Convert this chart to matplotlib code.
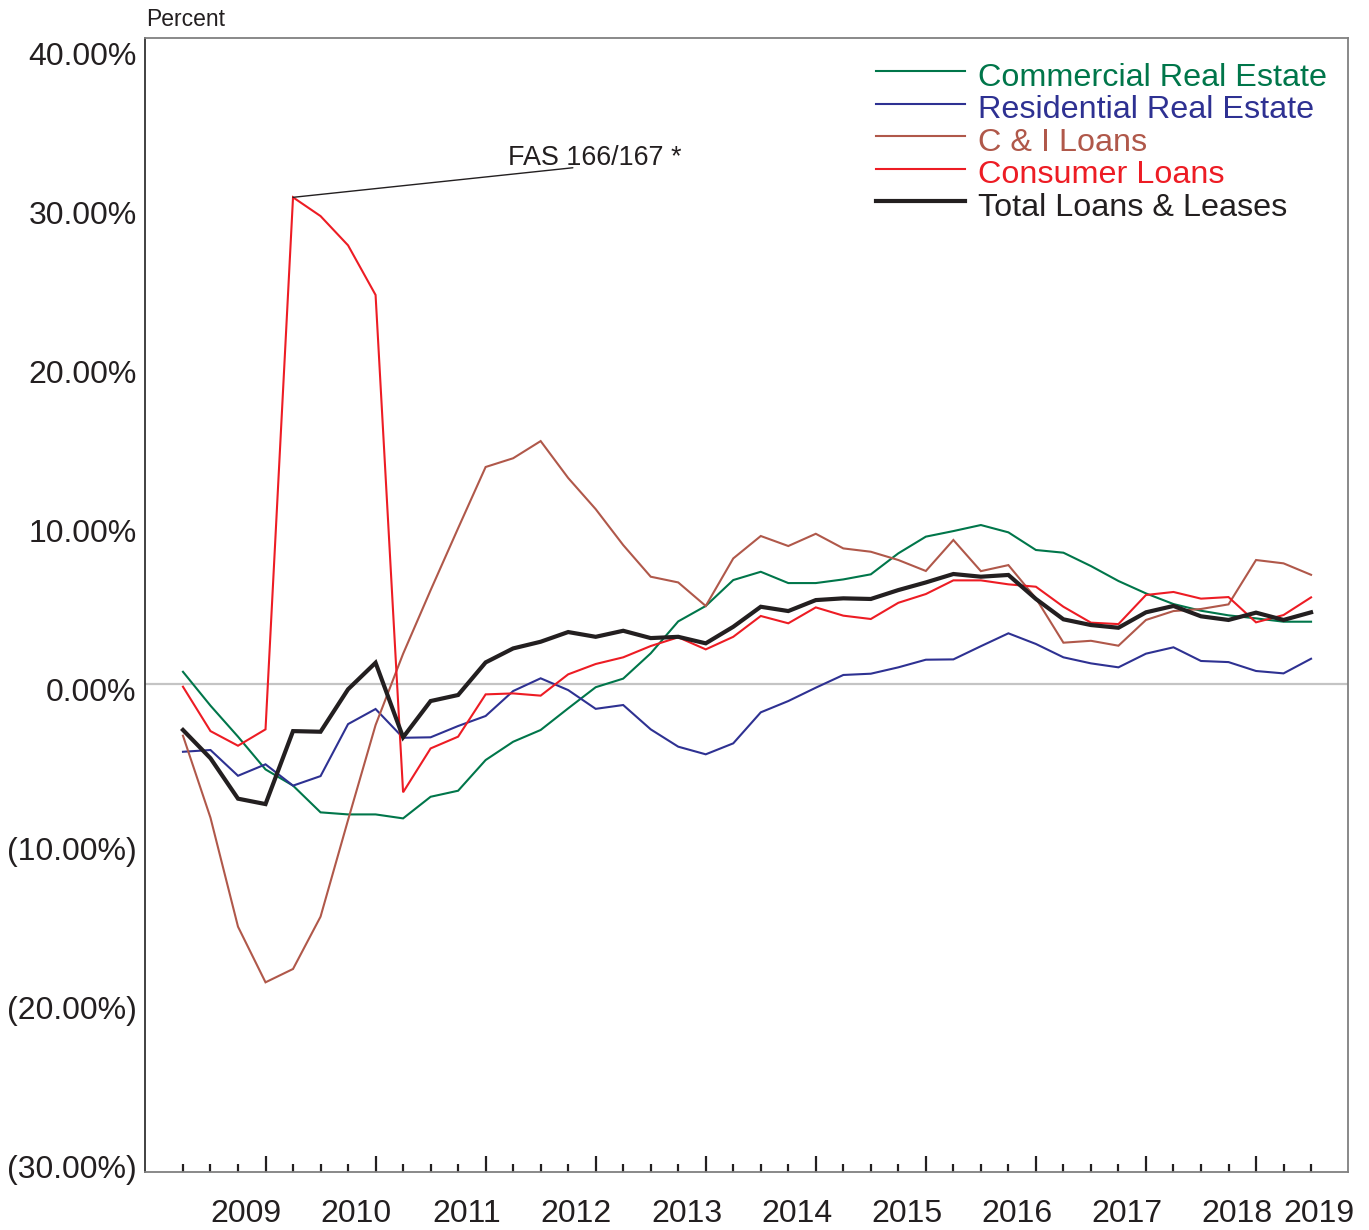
import numpy as np
import matplotlib
matplotlib.use("Agg")
import matplotlib.pyplot as plt
from matplotlib.lines import Line2D
from matplotlib.transforms import ScaledTranslation, blended_transform_factory

plt.rcParams["font.family"] = ["Liberation Sans", "DejaVu Sans"]

# quarterly growth rates, percent (42 quarters)
cre = [0.77, -1.36, -3.31, -5.37, -6.39, -8.07, -8.2, -8.2, -8.45, -7.09,
       -6.71, -4.78, -3.63, -2.89, -1.53, -0.2, 0.34, 1.93, 3.94, 4.91,
       6.54, 7.06, 6.35, 6.35, 6.58, 6.9, 8.22, 9.27, 9.62, 10.0,
       9.54, 8.43, 8.26, 7.42, 6.48, 5.7, 5.03, 4.61, 4.32, 4.13,
       3.92, 3.92]
rre = [-4.26, -4.15, -5.77, -5.05, -6.39, -5.79, -2.52, -1.57, -3.38, -3.35,
       -2.64, -2.01, -0.44, 0.36, -0.38, -1.56, -1.32, -2.85, -3.94, -4.42,
       -3.73, -1.78, -1.07, -0.23, 0.57, 0.65, 1.05, 1.53, 1.55, 2.38,
       3.19, 2.52, 1.68, 1.30, 1.05, 1.91, 2.31, 1.45, 1.38, 0.82,
       0.67, 1.59]
cni = [-3.25, -8.41, -15.26, -18.76, -17.92, -14.63, -8.55, -2.58, 1.9, 5.9,
       9.8, 13.65, 14.2, 15.28, 12.96, 11.0, 8.74, 6.75, 6.39, 4.91,
       7.9, 9.31, 8.68, 9.45, 8.53, 8.32, 7.8, 7.11, 9.06, 7.1,
       7.48, 5.39, 2.6, 2.72, 2.41, 4.03, 4.59, 4.72, 5.01, 7.8,
       7.59, 6.87]
consumer = [-0.17, -2.96, -3.88, -2.85, 30.61, 29.43, 27.59, 24.47, -6.81, -4.05,
            -3.31, -0.65, -0.59, -0.73, 0.61, 1.26, 1.68, 2.39, 2.94, 2.18,
            2.97, 4.28, 3.82, 4.82, 4.3, 4.09, 5.11, 5.66, 6.52, 6.52,
            6.27, 6.12, 4.86, 3.86, 3.77, 5.6, 5.79, 5.37, 5.47, 3.88,
            4.34, 5.45]
total = [-2.89, -4.67, -7.21, -7.55, -2.96, -3.0, -0.33, 1.34, -3.35, -1.07,
         -0.69, 1.36, 2.24, 2.66, 3.27, 2.97, 3.35, 2.89, 2.97, 2.56,
         3.6, 4.86, 4.59, 5.28, 5.39, 5.35, 5.91, 6.39, 6.92, 6.75,
         6.86, 5.35, 4.07, 3.71, 3.54, 4.51, 4.91, 4.26, 4.03, 4.49,
         4.03, 4.51]

names = ["Commercial Real Estate", "Residential Real Estate", "C & I Loans",
         "Consumer Loans", "Total Loans & Leases"]
colors = ["#00764a", "#2e3192", "#b0584a", "#ed1c24", "#231f20"]
widths = [1.5, 1.5, 1.5, 1.5, 3.0]

years = ["2009", "2010", "2011", "2012", "2013", "2014", "2015", "2016",
         "2017", "2018", "2019"]
yticks = [40, 30, 20, 10, 0, -10, -20, -30]

fas_quarter = 4
fas_label = "FAS 166/167 *"

fig = plt.figure(figsize=(13.69, 12.3), dpi=100)
ax = fig.add_axes([0.1059, 0.0474, 0.8788, 0.9217])

q = np.arange(len(total))
ax.axhline(0, color="#c4c4c4", lw=1.6, zorder=1)
for vals, c, w in zip([cre, rre, cni, consumer, total], colors, widths):
    ax.plot(q, vals, color=c, lw=w, solid_joinstyle="miter", zorder=3)

ax.set_xlim(-1.381, 42.345)
ax.set_ylim(-30.67, 40.63)

# y axis: percent labels, negatives in parentheses, no tick marks
ax.set_yticks(yticks)
ax.set_yticklabels([f"{v:.2f}%" if v >= 0 else f"({-v:.2f}%)" for v in yticks])
ax.tick_params(axis="y", length=0, pad=6, labelsize=23, labelcolor="#231f20")
shift = ScaledTranslation(0, -5 / 100, fig.dpi_scale_trans)
for lab in ax.get_yticklabels():
    lab.set_transform(lab.get_transform() + shift)

# x axis: quarterly ticks pointing in, taller at year end
ax.set_xticks(q[3::4])
ax.set_xticks([i for i in q if i % 4 != 3], minor=True)
ax.set_xticklabels([])
ax.tick_params(axis="x", which="major", direction="in", length=11.5, width=1.6,
               color="#231f20")
ax.tick_params(axis="x", which="minor", direction="in", length=5.8, width=1.6,
               color="#231f20")
xt = blended_transform_factory(ax.transData, ax.transAxes)
year_pos = [2.3 + 4 * k for k in range(len(years) - 1)] + [41.3]
for x, yr in zip(year_pos, years):
    ax.text(x, -0.0441, yr, transform=xt, ha="center", va="baseline",
            fontsize=23, color="#231f20", clip_on=False)

for side in ["top", "right", "bottom"]:
    ax.spines[side].set_color("#808080")
    ax.spines[side].set_linewidth(1.3)
ax.spines["left"].set_color("#333333")
ax.spines["left"].set_linewidth(1.3)

ax.text(0.001, 1.0106, "Percent", transform=ax.transAxes, ha="left",
        va="baseline", fontsize=16.5, color="#231f20")

# leader line to the consumer loan jump
ax.annotate("", xy=(fas_quarter, consumer[fas_quarter]), xytext=(14.17, 32.47),
            arrowprops=dict(arrowstyle="-", color="#231f20", lw=1.0,
                            shrinkA=0, shrinkB=0))
ax.text(11.81, 32.64, fas_label, ha="left", va="baseline", fontsize=19.4,
        color="#231f20")

# legend drawn by hand: short line plus coloured label
row_line = [0.9712, 0.9418, 0.9139, 0.8845, 0.8565]
row_text = [0.9577, 0.9291, 0.9005, 0.8718, 0.8432]
for name, c, w, yl, yt in zip(names, colors, widths, row_line, row_text):
    ax.add_line(Line2D([0.6077, 0.6816], [yl, yl], transform=ax.transAxes,
                       color=c, lw=w, clip_on=False))
    ax.text(0.6924, yt, name, transform=ax.transAxes, ha="left",
            va="baseline", fontsize=23.3, color=c)

fig.savefig("out.png", dpi=100)
